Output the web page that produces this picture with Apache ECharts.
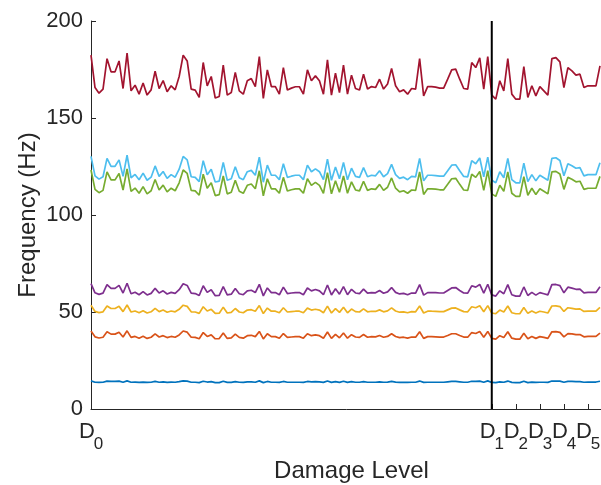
<!DOCTYPE html>
<html>
<head>
<meta charset="utf-8">
<script src="https://cdn.jsdelivr.net/npm/echarts@6/dist/echarts.min.js"></script>
<style>
html,body{margin:0;padding:0;background:#fff;}
#chart{width:601px;height:485px;}
</style>
</head>
<body>
<div id="chart"></div>
<script>
// Mode frequencies (Hz) per sample
const mode1 = [14.5,13.8,13.7,13.8,14.4,14.2,14.2,14.4,13.8,14.5,
13.8,13.9,13.7,13.9,13.7,13.8,14.2,13.8,14.0,13.7,
13.9,13.8,14.1,14.5,14.4,13.8,13.8,13.6,14.3,13.9,
14.1,13.6,13.6,14.3,13.7,13.7,14.1,13.8,13.7,14.0,
14.0,13.8,14.5,13.6,14.2,13.8,13.8,13.7,14.2,13.8,
13.8,13.8,13.8,13.7,14.2,14.0,14.1,14.0,13.7,14.4,
13.7,14.1,13.7,14.3,13.7,14.1,13.8,13.8,14.1,13.8,
13.8,13.8,14.0,13.8,13.9,14.2,13.9,13.7,13.8,13.7,
13.8,13.8,14.4,13.7,13.8,13.8,13.8,13.8,13.8,14.0,
14.2,14.2,14.0,13.8,13.8,14.3,14.2,14.4,13.8,14.5,
13.7,13.6,14.0,13.8,14.4,13.7,13.6,13.6,14.3,13.6,
13.9,13.7,13.8,13.8,13.7,14.4,14.4,14.4,13.8,14.2,
14.2,14.1,14.1,13.8,13.9,13.9,13.9,14.3];
const mode2 = [40.2,37.2,36.6,37.0,39.8,38.6,38.6,39.6,37.1,40.3,
36.9,37.4,36.5,37.5,36.4,37.0,38.7,37.1,37.8,36.8,
37.4,37.0,38.2,40.2,39.6,37.0,36.9,36.2,39.4,37.4,
38.2,36.2,36.3,39.2,36.4,36.7,38.6,36.9,36.5,37.8,
38.0,37.3,40.0,36.1,38.8,37.3,37.3,36.5,38.9,36.9,
37.1,37.3,37.3,36.5,38.8,37.8,38.2,37.8,36.5,39.7,
36.4,38.5,36.7,39.2,36.5,38.3,37.1,36.9,38.4,37.0,
37.3,37.2,37.9,37.0,37.4,38.8,37.4,36.8,37.0,36.5,
37.1,37.0,39.8,36.4,37.3,37.3,37.2,37.1,37.1,37.9,
38.8,38.8,37.9,37.1,37.0,39.4,38.9,39.9,37.0,40.0,
36.4,36.0,37.8,36.9,39.8,36.5,36.0,36.0,39.0,36.2,
37.4,36.4,37.3,36.9,36.4,39.8,39.9,39.5,37.2,38.9,
38.7,38.3,38.4,37.2,37.4,37.4,37.4,39.1];
const mode3 = [53.5,50.3,49.7,50.1,53.1,51.8,51.8,52.9,50.2,53.6,
50.0,50.5,49.6,50.7,49.5,50.1,51.9,50.2,51.0,49.9,
50.5,50.1,51.4,53.5,52.9,50.1,50.0,49.3,52.7,50.5,
51.4,49.3,49.4,52.5,49.5,49.8,51.8,50.0,49.6,51.0,
51.2,50.4,53.3,49.2,52.0,50.4,50.4,49.6,52.2,50.0,
50.2,50.4,50.4,49.6,52.0,51.0,51.4,51.0,49.6,53.0,
49.5,51.7,49.8,52.5,49.6,51.5,50.2,50.0,51.6,50.1,
50.4,50.3,51.1,50.1,50.6,52.1,50.5,49.9,50.1,49.6,
50.2,50.1,53.1,49.5,50.4,50.4,50.3,50.2,50.2,51.1,
52.0,52.1,51.1,50.2,50.1,52.7,52.2,53.2,50.1,53.3,
49.5,49.1,51.0,50.0,53.1,49.6,49.1,49.1,52.3,49.3,
50.5,49.5,50.4,50.0,49.5,53.1,53.2,52.8,50.3,52.2,
51.9,51.5,51.6,50.3,50.5,50.5,50.5,52.4];
const mode4 = [64.6,59.9,59.1,59.7,64.1,62.2,62.2,63.7,59.8,64.8,
59.4,60.2,58.9,60.5,58.8,59.6,62.2,59.8,60.9,59.3,
60.1,59.6,61.5,64.6,63.7,59.7,59.5,58.5,63.5,60.1,
61.5,58.4,58.6,63.1,58.8,59.2,62.1,59.4,58.9,60.9,
61.2,60.0,64.3,58.3,62.4,60.0,60.0,58.9,62.8,59.5,
59.8,60.0,60.0,58.9,62.4,60.9,61.6,60.9,58.9,63.9,
58.8,62.0,59.2,63.1,58.9,61.7,59.8,59.5,61.8,59.7,
60.0,59.9,61.1,59.7,60.4,62.6,60.1,59.3,59.6,58.9,
59.8,59.7,64.1,58.7,60.0,60.0,60.0,59.8,59.8,61.1,
62.4,62.6,61.1,59.8,59.7,63.5,62.8,64.2,59.7,64.3,
58.8,58.2,60.9,59.4,64.1,58.9,58.2,58.2,62.9,58.5,
60.1,58.7,60.0,59.4,58.8,64.1,64.2,63.6,59.9,62.8,
62.3,61.7,61.8,59.9,60.1,60.1,60.1,63.0];
const mode5 = [123.2,113.2,111.5,112.7,122.2,118.1,118.1,121.4,112.9,123.8,
112.2,113.9,111.2,114.6,110.9,112.5,118.3,112.9,115.4,111.9,
113.8,112.5,116.6,123.2,121.4,112.7,112.4,110.2,121.0,113.8,
116.6,110.0,110.5,120.1,110.9,111.7,117.9,112.2,111.2,115.3,
116.0,113.5,122.8,109.9,118.7,113.5,113.5,111.2,119.4,112.4,
113.0,113.5,113.5,111.2,118.7,115.3,116.8,115.3,111.2,121.8,
110.9,117.7,111.7,120.1,111.2,117.1,112.9,112.4,117.4,112.7,
113.5,113.2,115.8,112.7,114.3,119.1,113.8,111.9,112.5,111.2,
112.9,112.7,122.2,110.6,113.5,113.5,113.3,113.0,113.0,115.8,
118.7,118.9,115.8,112.9,112.7,121.0,119.4,122.4,112.7,122.8,
110.9,109.6,115.3,112.2,122.2,111.2,109.6,109.6,119.7,110.2,
113.8,110.6,113.5,112.2,110.9,122.2,122.5,121.1,113.2,119.4,
118.4,117.1,117.4,113.2,113.8,113.8,113.8,119.9];
const mode6 = [130.2,120.2,118.5,119.7,129.2,125.1,125.1,128.4,119.9,130.8,
119.2,120.9,118.2,121.6,117.9,119.5,125.3,119.9,122.4,118.9,
120.8,119.5,123.6,130.2,128.4,119.7,119.4,117.2,128.0,120.8,
123.6,117.0,117.5,127.1,117.9,118.7,124.9,119.2,118.2,122.3,
123.0,120.5,129.8,116.9,125.7,120.5,120.5,118.2,126.4,119.4,
120.0,120.5,120.5,118.2,125.7,122.3,123.8,122.3,118.2,128.8,
117.9,124.7,118.7,127.1,118.2,124.1,119.9,119.4,124.4,119.7,
120.5,120.2,122.8,119.7,121.3,126.1,120.8,118.9,119.5,118.2,
119.9,119.7,129.2,117.6,120.5,120.5,120.3,120.0,120.0,122.8,
125.7,125.9,122.8,119.9,119.7,128.0,126.4,129.4,119.7,129.8,
117.9,116.6,122.3,119.2,129.2,118.2,116.6,116.6,126.7,117.2,
120.8,117.6,120.5,119.2,117.9,129.2,129.5,128.1,120.2,126.4,
125.4,124.1,124.4,120.2,120.8,120.8,120.8,126.9];
const mode7 = [182.4,165.7,162.8,164.9,180.6,173.8,173.8,179.4,165.2,183.4,
164.0,166.9,162.3,168.0,161.8,164.5,174.1,165.2,169.3,163.5,
166.6,164.5,171.4,182.4,179.4,164.9,164.4,160.6,178.6,166.6,
171.4,160.3,161.1,177.2,161.8,163.1,173.5,164.0,162.3,169.2,
170.3,166.2,181.6,160.1,174.8,166.2,166.2,162.3,176.0,164.4,
165.4,166.1,166.1,162.3,174.8,169.2,171.7,169.2,162.3,180.0,
161.8,173.1,163.1,177.2,162.3,172.1,165.2,164.4,172.6,164.9,
166.2,165.7,170.0,164.9,167.5,175.5,166.6,163.5,164.5,162.3,
165.2,164.9,180.6,161.4,166.2,166.2,165.9,165.4,165.4,170.0,
174.8,175.2,170.0,165.2,164.9,178.6,176.0,181.0,164.9,181.6,
161.8,159.7,169.2,164.0,180.6,162.3,159.7,159.7,176.5,160.6,
166.6,161.4,166.2,164.0,161.8,180.6,181.1,178.9,165.7,176.0,
174.3,172.1,172.6,165.7,166.6,166.6,166.6,176.9];

// Damage-level ticks (sample index) and their subscripts
const damageTicks = [0, 100, 106, 112, 118, 124];
const damageSubs = ['0', '1', '2', '3', '4', '5'];
const yTicks = [0, 50, 100, 150, 200];
const boundary = 100; // start of damaged states (D1)

const colors = ['#0072BD','#D95319','#EDB120','#7E2F8E','#77AC30','#4DBEEE','#A2142F'];
const modes = [mode1, mode2, mode3, mode4, mode5, mode6, mode7];

const chart = echarts.init(document.getElementById('chart'), null, {renderer: 'canvas'});
const series = modes.map((m, j) => ({
  type: 'line',
  data: m.map((v, i) => [i, v]),
  showSymbol: false,
  symbol: 'none',
  clip: true,
  lineStyle: {color: colors[j], width: 1.7},
  itemStyle: {color: colors[j]},
  z: 2 + j
}));
series.push({
  type: 'line',
  data: [[boundary, yTicks[0]], [boundary, yTicks[yTicks.length - 1]]],
  symbol: 'none',
  lineStyle: {color: '#000', width: 2},
  z: 20
});

const font = 'Liberation Sans';
chart.setOption({
  animation: false,
  backgroundColor: '#fff',
  grid: {left: 91, top: 21, width: 521, height: 388, containLabel: false, outerBoundsMode: 'none'},
  xAxis: {
    type: 'value', min: 0, max: 130,
    name: 'Damage Level', nameLocation: 'middle', nameGap: 50,
    nameTextStyle: {fontFamily: font, fontSize: 24, color: '#262626'},
    axisLine: {show: true, lineStyle: {color: '#262626', width: 1}},
    axisTick: {show: true, inside: true, length: 5, customValues: damageTicks, lineStyle: {color: '#262626'}},
    axisLabel: {
      customValues: damageTicks,
      showMinLabel: true,
      showMaxLabel: true,
      hideOverlap: false,
      margin: 12,
      formatter: (v) => '{d|D}{s|' + damageSubs[damageTicks.indexOf(v)] + '}',
      rich: {
        d: {fontFamily: font, fontSize: 22, color: '#262626', verticalAlign: 'top', lineHeight: 32, width: 15},
        s: {fontFamily: font, fontSize: 17, color: '#262626', verticalAlign: 'bottom', lineHeight: 32, width: 8}
      }
    },
    splitLine: {show: false}
  },
  yAxis: {
    type: 'value', min: 0, max: 200, interval: 50,
    name: 'Frequency (Hz)', nameLocation: 'middle', nameGap: 51, nameMoveOverlap: false,
    nameTextStyle: {fontFamily: font, fontSize: 24, color: '#262626'},
    axisLine: {show: true, lineStyle: {color: '#262626', width: 1}},
    axisTick: {show: true, inside: true, length: 5, lineStyle: {color: '#262626'}},
    axisLabel: {fontFamily: font, fontSize: 22, color: '#262626', margin: 8},
    splitLine: {show: false}
  },
  series: series
});
</script>
</body>
</html>
